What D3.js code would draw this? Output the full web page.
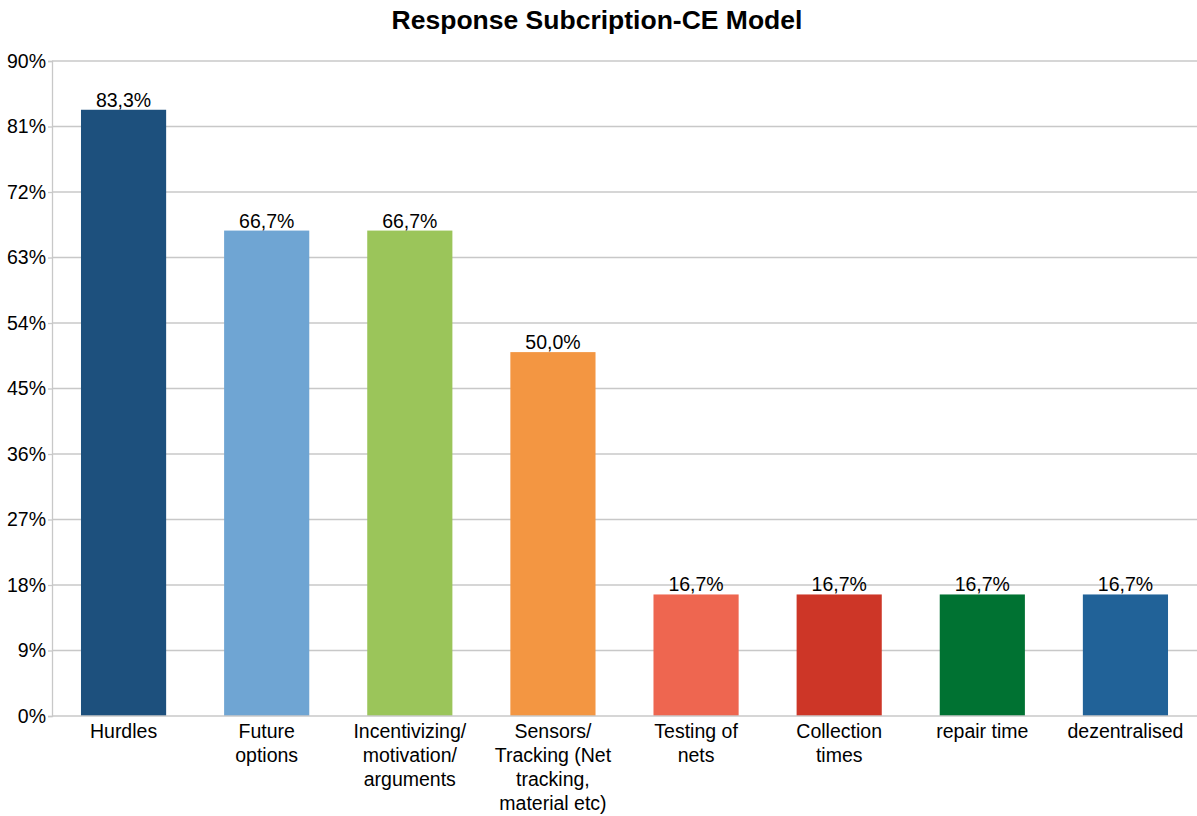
<!DOCTYPE html>
<html>
<head>
<meta charset="utf-8">
<script src="https://cdn.jsdelivr.net/npm/d3@7"></script>
<style>
  html, body { margin: 0; padding: 0; background: #fff; }
  svg { display: block; font-family: "Liberation Sans", Arial, Helvetica, sans-serif; }
</style>
</head>
<body>
<svg id="chart" width="1197" height="816"></svg>
<script>
const categories = [
  ["Hurdles"],
  ["Future", "options"],
  ["Incentivizing/", "motivation/", "arguments"],
  ["Sensors/", "Tracking (Net", "tracking,", "material etc)"],
  ["Testing of", "nets"],
  ["Collection", "times"],
  ["repair time"],
  ["dezentralised"]
];
const values = [83.3, 66.7, 66.7, 50.0, 16.7, 16.7, 16.7, 16.7];
const colors = ["#1d507d", "#6fa5d3", "#9bc55a", "#f39642", "#ee6650", "#cd3627", "#007232", "#216298"];
const yTicks = [0, 9, 18, 27, 36, 45, 54, 63, 72, 81, 90];
const title = "Response Subcription-CE Model";

const svg = d3.select("#chart");
const W = 1197, H = 816;
const x0 = 52, x1 = W;
const yTop = 61, yBot = 716;
const FS = 19.5;

const x = d3.scaleBand().domain(d3.range(categories.length)).range([x0, x1]).paddingInner(0.405).paddingOuter(0.2025);
const y = d3.scaleLinear().domain([0, 90]).range([yBot, yTop]);

// title
svg.append("text").attr("x", 597).attr("y", 29).attr("text-anchor", "middle")
  .attr("font-size", 26.5).attr("font-weight", "bold").attr("fill", "#000").text(title);

// gridlines
svg.append("g").selectAll("line").data(yTicks.filter(d => d > 0)).join("line")
  .attr("x1", x0).attr("x2", x1).attr("y1", d => y(d)).attr("y2", d => y(d))
  .attr("stroke", "#c8c8c8").attr("stroke-width", 1.3);

// y axis
const yAxis = d3.axisLeft(y).tickValues(yTicks).tickFormat(d => d + "%").tickSize(4).tickPadding(2);
const gy = svg.append("g").attr("transform", `translate(${x0},0)`).call(yAxis);
gy.select(".domain").attr("stroke", "#c8c8c8").attr("stroke-width", 1.3);
gy.selectAll(".tick line").attr("stroke", "#c8c8c8").attr("stroke-width", 1.3);
gy.selectAll(".tick text").attr("font-size", FS).attr("fill", "#000")
  .attr("font-family", "'Liberation Sans', Arial, sans-serif");

// bars
svg.append("g").selectAll("rect").data(values).join("rect")
  .attr("x", (d, i) => x(i)).attr("width", x.bandwidth())
  .attr("y", d => y(d)).attr("height", d => yBot - y(d))
  .attr("fill", (d, i) => colors[i]);

// baseline
svg.append("line").attr("x1", x0).attr("x2", x1).attr("y1", yBot).attr("y2", yBot)
  .attr("stroke", "#c8c8c8").attr("stroke-width", 1.3);

// value labels
svg.append("g").selectAll("text").data(values).join("text")
  .attr("x", (d, i) => x(i) + x.bandwidth() / 2).attr("y", d => y(d) - 3)
  .attr("text-anchor", "middle").attr("font-size", FS).attr("fill", "#000")
  .text(d => d.toFixed(1).replace(".", ",") + "%");

// x labels
const xl = svg.append("g").selectAll("text").data(categories).join("text")
  .attr("x", (d, i) => x(i) + x.bandwidth() / 2).attr("y", yBot + 22)
  .attr("text-anchor", "middle").attr("font-size", FS).attr("fill", "#000");
xl.each(function(lines) {
  const t = d3.select(this);
  const cx = t.attr("x");
  lines.forEach((ln, k) => {
    t.append("tspan").attr("x", cx).attr("dy", k === 0 ? 0 : 24).text(ln);
  });
});
</script>
</body>
</html>
